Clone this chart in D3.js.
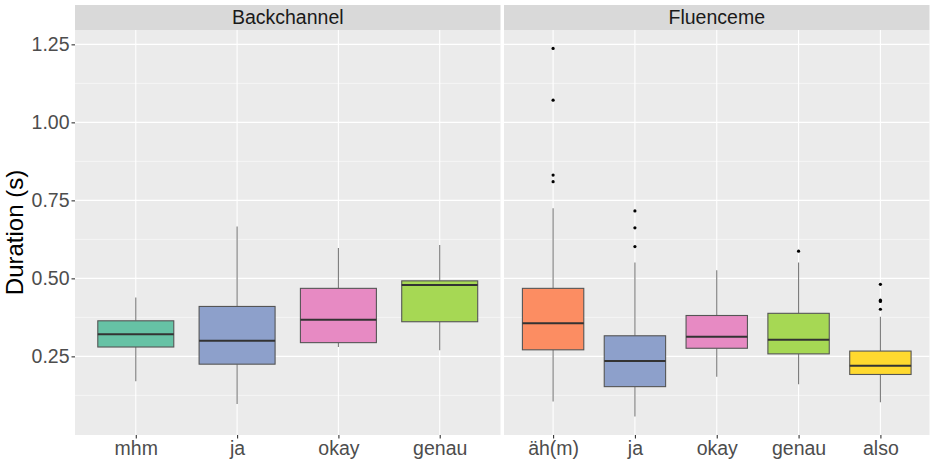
<!DOCTYPE html>
<html>
<head>
<meta charset="utf-8">
<script src="https://cdn.jsdelivr.net/npm/d3@7"></script>
<style>
  body { margin: 0; background: #fff; }
  svg { display: block; font-family: "Liberation Sans", Arial, Helvetica, sans-serif; }
</style>
</head>
<body>
<svg id="chart" width="935" height="464"></svg>
<script>
// ---------- data ----------
const panelNames = ["Backchannel", "Fluenceme"];

const backCategories = ["mhm", "ja", "okay", "genau"];
const backLower  = [0.170, 0.097, 0.280, 0.270];
const backQ1     = [0.280, 0.225, 0.294, 0.361];
const backMedian = [0.321, 0.300, 0.367, 0.479];
const backQ3     = [0.364, 0.410, 0.468, 0.492];
const backUpper  = [0.439, 0.666, 0.597, 0.607];
const backOutliers = [[], [], [], []];

const fluCategories = ["äh(m)", "ja", "okay", "genau", "also"];
const fluLower  = [0.105, 0.057, 0.185, 0.161, 0.103];
const fluQ1     = [0.271, 0.153, 0.276, 0.258, 0.192];
const fluMedian = [0.356, 0.235, 0.313, 0.303, 0.220];
const fluQ3     = [0.468, 0.316, 0.381, 0.388, 0.267];
const fluUpper  = [0.725, 0.551, 0.526, 0.551, 0.377];
const fluOutliers = [[1.237, 1.071, 0.831, 0.810], [0.716, 0.662, 0.602], [], [0.587], [0.481, 0.430, 0.426, 0.401]];

const yTicks = [0.25, 0.50, 0.75, 1.00, 1.25];
const yMinorTicks = [0.125, 0.375, 0.625, 0.875, 1.125];

const colorMap = {
  "mhm": "#66C2A5", "ja": "#8DA0CB", "okay": "#E78AC3",
  "genau": "#A6D854", "äh(m)": "#FC8D62", "also": "#FFD92F"
};

// ---------- layout ----------
const svg = d3.select("#chart");
const panelTop = 30, panelBottom = 435;
const stripTop = 5;
const panelsX = [[75, 500.5], [504, 929.5]];
const tickFont = 19.5;

const allVals = [].concat(backLower, backUpper, fluLower, fluUpper, ...backOutliers, ...fluOutliers);
const vmin = d3.min(allVals), vmax = d3.max(allVals);
const pad = (vmax - vmin) * 0.05;
const y = d3.scaleLinear().domain([vmin - pad, vmax + pad]).range([panelBottom, panelTop]);

function buildPanel(i, cats, lower, q1, med, q3, upper, outl) {
  const [x0, x1] = panelsX[i];
  const x = d3.scalePoint().domain(cats).range([x0, x1]).padding(0.6);
  const step = x.step();
  const bw = step * 0.75;
  const g = svg.append("g");

  // background
  g.append("rect").attr("x", x0).attr("y", panelTop).attr("width", x1 - x0)
    .attr("height", panelBottom - panelTop).attr("fill", "#EBEBEB");
  // minor grid
  g.selectAll(".ymin").data(yMinorTicks).join("line")
    .attr("x1", x0).attr("x2", x1).attr("y1", d => y(d)).attr("y2", d => y(d))
    .attr("stroke", "#fff").attr("stroke-width", 0.55);
  // major grid
  g.selectAll(".ymaj").data(yTicks).join("line")
    .attr("x1", x0).attr("x2", x1).attr("y1", d => y(d)).attr("y2", d => y(d))
    .attr("stroke", "#fff").attr("stroke-width", 1.1);
  g.selectAll(".xmaj").data(cats).join("line")
    .attr("x1", d => x(d)).attr("x2", d => x(d)).attr("y1", panelTop).attr("y2", panelBottom)
    .attr("stroke", "#fff").attr("stroke-width", 1.1);

  // strip
  g.append("rect").attr("x", x0).attr("y", stripTop).attr("width", x1 - x0)
    .attr("height", panelTop - stripTop).attr("fill", "#D9D9D9");
  g.append("text").attr("x", (x0 + x1) / 2).attr("y", 23.5)
    .attr("text-anchor", "middle").attr("font-size", 19.5).attr("fill", "#1A1A1A")
    .text(panelNames[i]);

  // boxes
  cats.forEach((c, k) => {
    const cx = x(c);
    g.append("line").attr("x1", cx).attr("x2", cx).attr("y1", y(upper[k])).attr("y2", y(q3[k]))
      .attr("stroke", "#7a7a7a").attr("stroke-width", 1.1);
    g.append("line").attr("x1", cx).attr("x2", cx).attr("y1", y(q1[k])).attr("y2", y(lower[k]))
      .attr("stroke", "#7a7a7a").attr("stroke-width", 1.1);
    g.append("rect").attr("x", cx - bw / 2).attr("y", y(q3[k])).attr("width", bw)
      .attr("height", y(q1[k]) - y(q3[k])).attr("fill", colorMap[c])
      .attr("stroke", "#555").attr("stroke-width", 1.1);
    g.append("line").attr("x1", cx - bw / 2).attr("x2", cx + bw / 2)
      .attr("y1", y(med[k])).attr("y2", y(med[k]))
      .attr("stroke", "#333").attr("stroke-width", 2);
    g.selectAll(null).data(outl[k]).join("circle")
      .attr("cx", cx).attr("cy", d => y(d)).attr("r", 1.6).attr("fill", "#000");
  });

  // x axis
  const xa = svg.append("g").attr("transform", `translate(0,${panelBottom})`)
    .call(d3.axisBottom(x).tickSize(3.5).tickPadding(3));
  xa.select(".domain").remove();
  xa.selectAll(".tick line").attr("stroke", "#333").attr("stroke-width", 1.1);
  xa.selectAll(".tick text").attr("font-size", tickFont).attr("fill", "#4D4D4D")
    .attr("font-family", "Liberation Sans, Arial, sans-serif");
}

buildPanel(0, backCategories, backLower, backQ1, backMedian, backQ3, backUpper, backOutliers);
buildPanel(1, fluCategories, fluLower, fluQ1, fluMedian, fluQ3, fluUpper, fluOutliers);

// y axis
const ya = svg.append("g").attr("transform", `translate(${panelsX[0][0]},0)`)
  .call(d3.axisLeft(y).tickValues(yTicks).tickFormat(d3.format(".2f")).tickSize(3.5).tickPadding(2));
ya.select(".domain").remove();
ya.selectAll(".tick line").attr("stroke", "#333").attr("stroke-width", 1.1);
ya.selectAll(".tick text").attr("font-size", tickFont).attr("fill", "#4D4D4D")
  .attr("font-family", "Liberation Sans, Arial, sans-serif");

// y title
svg.append("text")
  .attr("transform", `translate(23,${(panelTop + panelBottom) / 2}) rotate(-90)`)
  .attr("text-anchor", "middle").attr("font-size", 24).attr("fill", "#000")
  .text("Duration (s)");
</script>
</body>
</html>
